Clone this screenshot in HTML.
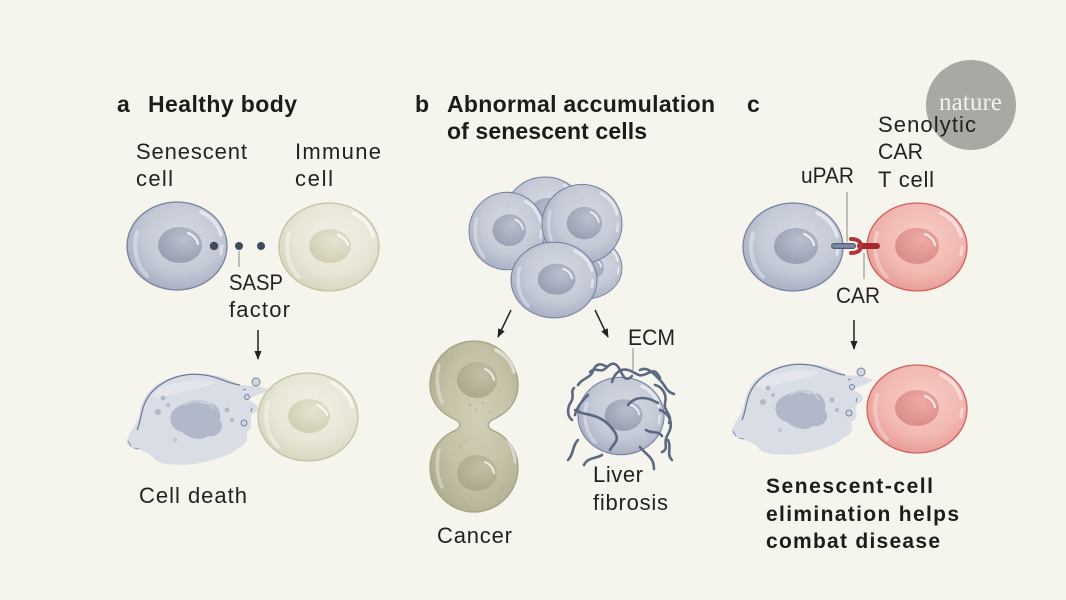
<!DOCTYPE html>
<html><head><meta charset="utf-8"><style>
html,body{margin:0;padding:0;background:#f5f4ed;}
svg{display:block}
.t{font-family:"Liberation Sans",sans-serif;font-size:22px;fill:#222;}
.b{font-family:"Liberation Sans",sans-serif;font-size:23px;font-weight:bold;fill:#1c1c1c;}
.bc{font-family:"Liberation Sans",sans-serif;font-size:21px;font-weight:bold;fill:#1c1c1c;}
</style></head><body>
<svg width="1066" height="600" viewBox="0 0 1066 600" xmlns="http://www.w3.org/2000/svg">
<defs>
<radialGradient id="gSen" cx="55%" cy="40%" r="65%"><stop offset="0" stop-color="#d6dae4"/><stop offset=".6" stop-color="#c4c9d6"/><stop offset="1" stop-color="#a4abbf"/></radialGradient>
<radialGradient id="gSenN" cx="60%" cy="35%" r="70%"><stop offset="0" stop-color="#bac0ce"/><stop offset="1" stop-color="#959db1"/></radialGradient>
<radialGradient id="gImm" cx="55%" cy="40%" r="65%"><stop offset="0" stop-color="#f1f0e6"/><stop offset=".6" stop-color="#e8e6d6"/><stop offset="1" stop-color="#d6d3bc"/></radialGradient>
<radialGradient id="gImmN" cx="60%" cy="35%" r="70%"><stop offset="0" stop-color="#e6e4d2"/><stop offset="1" stop-color="#d0cdb3"/></radialGradient>
<radialGradient id="gT" cx="55%" cy="40%" r="65%"><stop offset="0" stop-color="#f8cdc8"/><stop offset=".6" stop-color="#f2b9b3"/><stop offset="1" stop-color="#e59893"/></radialGradient>
<radialGradient id="gTN" cx="60%" cy="35%" r="70%"><stop offset="0" stop-color="#eeaaa5"/><stop offset="1" stop-color="#da8c88"/></radialGradient>
<radialGradient id="gCan" cx="55%" cy="45%" r="65%"><stop offset="0" stop-color="#d2cfb7"/><stop offset=".6" stop-color="#c4c1a6"/><stop offset="1" stop-color="#aeab8e"/></radialGradient>
<radialGradient id="gCanN" cx="60%" cy="35%" r="70%"><stop offset="0" stop-color="#c2bfa6"/><stop offset="1" stop-color="#aaa78b"/></radialGradient>
<marker id="ah" viewBox="0 0 10 10" refX="9" refY="5" markerWidth="9" markerHeight="9" markerUnits="userSpaceOnUse" orient="auto"><path d="M0 1 L10 5 L0 9 z" fill="#222"/></marker>

<g id="cellSen">
<ellipse rx="50" ry="44" fill="url(#gSen)" stroke="#7683a0" stroke-width="1.3"/>
<path d="M-40 -14 C-44 0 -42 18 -30 30" stroke="#fff" stroke-opacity=".35" stroke-width="4" fill="none" stroke-linecap="round"/>
<path d="M24 -34 C35 -29 41 -21 44 -11" stroke="#fff" stroke-opacity=".55" stroke-width="3.5" fill="none" stroke-linecap="round"/>
<path d="M45 0 L44 8" stroke="#fff" stroke-opacity=".5" stroke-width="3" fill="none" stroke-linecap="round"/>
<ellipse cx="3" cy="-1" rx="22" ry="18" fill="url(#gSenN)"/>
<path d="M11 -13 C16 -11 20 -7 21 -2" stroke="#fff" stroke-opacity=".8" stroke-width="2.2" fill="none" stroke-linecap="round"/>
</g>
<g id="cellImm">
<ellipse rx="50" ry="44" fill="url(#gImm)" stroke="#c6c1a2" stroke-width="1.3"/>
<path d="M-40 -14 C-44 0 -42 18 -30 30" stroke="#fff" stroke-opacity=".4" stroke-width="4" fill="none" stroke-linecap="round"/>
<path d="M24 -34 C35 -29 41 -21 44 -11" stroke="#fff" stroke-opacity=".6" stroke-width="3.5" fill="none" stroke-linecap="round"/>
<ellipse cx="1" cy="-1" rx="21" ry="17" fill="url(#gImmN)"/>
<path d="M9 -12 C14 -10 18 -6 19 -2" stroke="#fff" stroke-opacity=".8" stroke-width="2.2" fill="none" stroke-linecap="round"/>
</g>
<g id="cellT">
<ellipse rx="50" ry="44" fill="url(#gT)" stroke="#d2605e" stroke-width="1.3"/>
<path d="M-40 -14 C-44 0 -42 18 -30 30" stroke="#fff" stroke-opacity=".3" stroke-width="4" fill="none" stroke-linecap="round"/>
<path d="M24 -34 C35 -29 41 -21 44 -11" stroke="#fff" stroke-opacity=".5" stroke-width="3.5" fill="none" stroke-linecap="round"/>
<path d="M45 0 L44 8" stroke="#fff" stroke-opacity=".45" stroke-width="3" fill="none" stroke-linecap="round"/>
<ellipse cx="0" cy="-1" rx="22" ry="18" fill="url(#gTN)"/>
<path d="M8 -13 C13 -11 17 -7 18 -2" stroke="#fff" stroke-opacity=".75" stroke-width="2.2" fill="none" stroke-linecap="round"/>
</g>

<g id="dead">
<path d="M127 440 C130 430 138 425 140 410 C145 390 160 378 187 374 C210 372 228 378 240 385 C250 386 260 385 268 390 C262 395 252 396 248 400 C258 404 262 410 252 414 C248 420 256 428 246 432 C250 440 244 446 238 448 C230 456 215 460 195 464 C175 466 160 464 155 460 C150 452 140 450 132 448 C128 446 126 443 127 440 Z" fill="#d9dde6"/>
<path d="M150 395 C165 382 190 378 215 382 C200 392 175 390 160 400 Z" fill="#e7e9ef" opacity=".8"/>
<path d="M172 412 C180 402 195 400 205 404 C215 400 222 410 220 420 C226 428 218 438 208 436 C200 442 188 438 182 432 C172 430 168 420 172 412 Z" fill="#b1b8c9"/>
<path d="M185 405 C195 398 210 400 214 410" stroke="#c6cbd7" stroke-width="2" fill="none"/>
<circle cx="163" cy="398" r="2.5" fill="#b3b9c9"/>
<circle cx="158" cy="412" r="3" fill="#b3b9c9"/>
<circle cx="168" cy="405" r="2" fill="#b3b9c9"/>
<circle cx="227" cy="410" r="2.5" fill="#b3b9c9"/>
<circle cx="232" cy="420" r="2" fill="#b3b9c9"/>
<circle cx="175" cy="440" r="2" fill="#c1c6d3"/>
<path d="M137 430 C142 420 140 405 152 392 C165 378 185 372 205 375 C220 377 228 384 240 385" stroke="#6f7d9c" stroke-width="1.3" fill="none"/>
<path d="M128 441 L131 446 M134 448 L139 449" stroke="#8c98b0" stroke-width="1" fill="none"/>
<circle cx="256" cy="382" r="4" fill="#d0d5e0" stroke="#7584a2" stroke-width="1"/>
<circle cx="247" cy="397" r="2.5" fill="#d0d5e0" stroke="#7584a2" stroke-width="1"/>
<circle cx="244" cy="423" r="3" fill="#d0d5e0" stroke="#7584a2" stroke-width="1"/>
<path d="M243 390 L246 389 M252 408 L251 412" stroke="#7584a2" stroke-width="1"/>
</g>
</defs>

<rect width="1066" height="600" fill="#f5f4ed"/>

<!-- Panel a -->
<text class="b" x="117" y="112">a</text>
<text class="b" x="148" y="112" textLength="149" lengthAdjust="spacing">Healthy body</text>
<text class="t" x="136" y="159" textLength="111" lengthAdjust="spacing">Senescent</text>
<text class="t" x="136" y="186" textLength="37" lengthAdjust="spacing">cell</text>
<text class="t" x="295" y="159" textLength="86" lengthAdjust="spacing">Immune</text>
<text class="t" x="295" y="186" textLength="38" lengthAdjust="spacing">cell</text>

<use href="#cellSen" transform="translate(177,246)"/>
<use href="#cellImm" transform="translate(329,247)"/>
<circle cx="214" cy="246" r="4.2" fill="#3f4b60"/>
<circle cx="239" cy="246" r="4" fill="#3f4b60"/>
<circle cx="261" cy="246" r="4" fill="#3f4b60"/>
<line x1="239" y1="251" x2="239" y2="267" stroke="#888" stroke-width="1"/>
<text class="t" x="229" y="290" textLength="54" lengthAdjust="spacingAndGlyphs">SASP</text>
<text class="t" x="229" y="317" textLength="61" lengthAdjust="spacing">factor</text>

<line x1="258" y1="330" x2="258" y2="359" stroke="#222" stroke-width="1.5" marker-end="url(#ah)"/>
<use href="#dead"/>
<use href="#cellImm" transform="translate(308,417)"/>
<text class="t" x="139" y="503" textLength="108" lengthAdjust="spacing">Cell death</text>

<!-- Panel b -->
<text class="b" x="415" y="112">b</text>
<text class="b" x="447" y="112" textLength="268" lengthAdjust="spacing">Abnormal accumulation</text>
<text class="b" x="447" y="139" textLength="200" lengthAdjust="spacing">of senescent cells</text>

<use href="#cellSen" transform="translate(545,214) scale(0.8,0.84)" opacity=".97"/>
<use href="#cellSen" transform="translate(586,268) scale(0.72,0.7)" opacity=".97"/>
<use href="#cellSen" transform="translate(507,231) scale(0.76,0.88)" opacity=".97"/>
<use href="#cellSen" transform="translate(582,224) scale(0.8,0.9)" opacity=".97"/>
<use href="#cellSen" transform="translate(554,280) scale(0.86,0.86)"/>

<line x1="511" y1="310" x2="498" y2="337" stroke="#222" stroke-width="1.5" marker-end="url(#ah)"/>
<line x1="595" y1="310" x2="608" y2="337" stroke="#222" stroke-width="1.5" marker-end="url(#ah)"/>

<path d="M474 341 C498 341 518 361 518 385 C518 403 506 414 492 420 C487 423 487 427 492 430 C506 436 518 448 518 468 C518 492 498 512 474 512 C450 512 430 492 430 468 C430 448 442 436 456 430 C461 427 461 423 456 420 C442 414 430 403 430 385 C430 361 450 341 474 341 Z" fill="url(#gCan)" stroke="#a6a386" stroke-width="1.3"/>
<path d="M439 365 C436 378 437 392 442 402" stroke="#fff" stroke-opacity=".35" stroke-width="3.5" fill="none" stroke-linecap="round"/>
<path d="M496 350 C506 355 512 363 514 372" stroke="#fff" stroke-opacity=".5" stroke-width="3.5" fill="none" stroke-linecap="round"/>
<path d="M439 450 C436 463 437 477 442 487" stroke="#fff" stroke-opacity=".35" stroke-width="3.5" fill="none" stroke-linecap="round"/>
<path d="M508 440 C513 448 515 456 515 462" stroke="#fff" stroke-opacity=".45" stroke-width="3" fill="none" stroke-linecap="round"/>
<ellipse cx="477" cy="380" rx="20" ry="18" fill="url(#gCanN)"/>
<ellipse cx="477" cy="473" rx="20" ry="18" fill="url(#gCanN)"/>
<path d="M485 369 C490 371 493 375 494 380" stroke="#fff" stroke-opacity=".75" stroke-width="2" fill="none" stroke-linecap="round"/>
<path d="M485 462 C490 464 493 468 494 473" stroke="#fff" stroke-opacity=".75" stroke-width="2" fill="none" stroke-linecap="round"/>
<g fill="#b0ad90" opacity=".7">
<circle cx="447" cy="362" r="1.3"/><circle cx="452" cy="357" r="1.1"/><circle cx="444" cy="371" r="1"/>
<circle cx="470" cy="405" r="1.5"/><circle cx="476" cy="410" r="1.2"/><circle cx="483" cy="403" r="1.1"/>
<circle cx="490" cy="412" r="1.3"/><circle cx="466" cy="441" r="1.2"/><circle cx="460" cy="447" r="1.1"/>
<circle cx="503" cy="488" r="1.3"/><circle cx="498" cy="494" r="1.1"/><circle cx="508" cy="480" r="1"/>
<circle cx="471" cy="497" r="1"/><circle cx="454" cy="455" r="1"/>
</g>
<text class="t" x="437" y="543" textLength="75" lengthAdjust="spacing">Cancer</text>

<use href="#cellSen" transform="translate(621,416) scale(0.86,0.88)"/>
<g stroke="#5b6982" stroke-width="2.6" fill="none" stroke-linecap="round">
<path d="M578 385 c5 -8 12 -6 15 -14 s8 -8 14 -4"/>
<path d="M590 372 c6 -6 10 2 16 -4 s10 -6 14 2 s6 12 12 6"/>
<path d="M612 382 c2 -8 8 -14 16 -12 s10 8 18 4 s10 -4 14 4"/>
<path d="M640 370 c8 -4 14 4 20 10 s6 12 14 14"/>
<path d="M655 385 c8 2 12 10 10 18 s8 12 4 20"/>
<path d="M660 410 c10 4 14 14 8 24 s2 14 -6 18"/>
<path d="M668 440 c4 8 -2 14 4 20"/>
<path d="M640 447 c6 8 14 10 14 22"/>
<path d="M602 455 c-6 4 -14 2 -18 10"/>
<path d="M578 440 c-6 6 -4 14 -10 20"/>
<path d="M572 420 c-5 -4 -5 -12 -1 -18 s-1 -10 3 -14"/>
<path d="M575 410 c8 6 22 2 35 16 s4 16 0 24"/>
<path d="M628 405 c8 -10 20 -8 30 -2"/>
<path d="M588 395 c-6 6 -11 12 -13 20"/>
<path d="M646 430 c6 4 12 0 16 6"/>
</g>
<line x1="633" y1="348" x2="633" y2="372" stroke="#888" stroke-width="1"/>
<text class="t" x="628" y="345" textLength="47" lengthAdjust="spacingAndGlyphs">ECM</text>
<text class="t" x="593" y="482" textLength="50" lengthAdjust="spacing">Liver</text>
<text class="t" x="593" y="510" textLength="75" lengthAdjust="spacing">fibrosis</text>

<!-- Panel c -->
<circle cx="971" cy="105" r="45" fill="#a9a8a3"/>
<text x="939" y="110" font-family="Liberation Serif, serif" font-size="25" fill="#f2f1ea" textLength="63" lengthAdjust="spacing">nature</text>
<text class="b" x="747" y="112">c</text>
<text class="t" x="878" y="132" textLength="98" lengthAdjust="spacing">Senolytic</text>
<text class="t" x="878" y="159" textLength="45" lengthAdjust="spacingAndGlyphs">CAR</text>
<text class="t" x="878" y="187" textLength="56" lengthAdjust="spacing">T cell</text>
<text class="t" x="801" y="183" textLength="53" lengthAdjust="spacingAndGlyphs">uPAR</text>
<line x1="847" y1="192" x2="847" y2="242" stroke="#888" stroke-width="1"/>

<use href="#cellSen" transform="translate(793,247)"/>
<use href="#cellT" transform="translate(917,247)"/>
<line x1="834" y1="246" x2="853" y2="246" stroke="#4f5d77" stroke-width="6" stroke-linecap="round"/>
<line x1="834" y1="246" x2="853" y2="246" stroke="#7c8aa6" stroke-width="3.5" stroke-linecap="round"/>
<line x1="860" y1="246" x2="877" y2="246" stroke="#a3282f" stroke-width="6" stroke-linecap="round"/>
<path d="M851 239 C858 239 861 242 861 246 C861 250 858 253 851 253" stroke="#b3343a" stroke-width="4" fill="none" stroke-linecap="round"/>
<line x1="864" y1="253" x2="864" y2="279" stroke="#888" stroke-width="1"/>
<text class="t" x="836" y="303" textLength="44" lengthAdjust="spacingAndGlyphs">CAR</text>

<line x1="854" y1="320" x2="854" y2="349" stroke="#222" stroke-width="1.5" marker-end="url(#ah)"/>
<use href="#dead" transform="translate(605,-10)"/>
<use href="#cellT" transform="translate(917,409)"/>

<text class="bc" x="766" y="493" textLength="167" lengthAdjust="spacing">Senescent-cell</text>
<text class="bc" x="766" y="521" textLength="193" lengthAdjust="spacing">elimination helps</text>
<text class="bc" x="766" y="548" textLength="174" lengthAdjust="spacing">combat disease</text>
</svg>
</body></html>
